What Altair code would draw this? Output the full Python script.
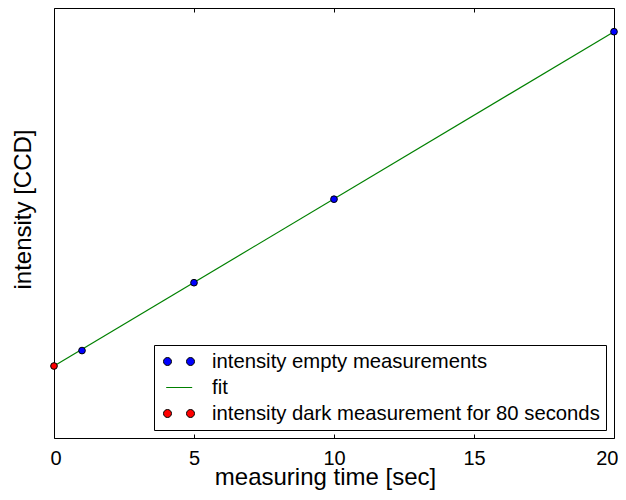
import altair as alt
import pandas as pd

# ---- data ----
fit_time = [0, 20]
fit_intensity = [165.5, 934.0]
empty_time = [1, 5, 10, 20]
empty_intensity = [201.0, 357.0, 549.0, 934.0]
dark_time = [0]
dark_intensity = [165.5]
x_ticks = [0, 5, 10, 15, 20]

S_EMPTY = "intensity empty measurements"
S_FIT = "fit"
S_DARK = "intensity dark measurement for 80 seconds"
series_order = [S_EMPTY, S_FIT, S_DARK]

fit_df = pd.DataFrame({"t": fit_time, "v": fit_intensity, "series": S_FIT})
pts_df = pd.concat([
    pd.DataFrame({"t": empty_time, "v": empty_intensity, "series": S_EMPTY}),
    pd.DataFrame({"t": dark_time, "v": dark_intensity, "series": S_DARK}),
], ignore_index=True)

FONT = "Liberation Sans"

def circle(cx, r):
    return (f"M {cx - r},0 A {r},{r} 0 1,0 {cx + r},0 "
            f"A {r},{r} 0 1,0 {cx - r},0 Z ")

# legend symbols (matplotlib-style: two markers per entry, short line for fit)
two_dots = circle(-0.3, 0.4) + circle(2.0, 0.4)
line_sym = "M -0.43,0 L 2.17,0"

x_scale = alt.Scale(domain=[0, 20], nice=False, zero=False)
y_scale = alt.Scale(domain=[0, 988.5], nice=False, zero=False)

stroke_scale = alt.Scale(domain=series_order, range=["#000000", "#008000", "#000000"])
fill_scale = alt.Scale(domain=series_order, range=["#0000ff", "transparent", "#ff0000"])
shape_scale = alt.Scale(domain=series_order, range=[two_dots, line_sym, two_dots])

legend = alt.Legend(title=None)

y_axis = alt.Axis(title="intensity [CCD]", labels=False, ticks=False,
                  grid=False, domain=False, titleFontSize=24,
                  titleX=-24, titleY=201, titleBaseline="alphabetic")

line = alt.Chart(fit_df).mark_line(strokeWidth=1.2).encode(
    x=alt.X("t:Q", scale=x_scale,
            axis=alt.Axis(orient="top", labels=False, title=None, values=x_ticks,
                          grid=True, gridDash=[4, 1000], gridColor="#000000",
                          gridOpacity=1, ticks=False, domain=False)),
    y=alt.Y("v:Q", scale=y_scale, axis=y_axis),
    stroke=alt.Stroke("series:N", scale=stroke_scale, legend=legend),
)

points = alt.Chart(pts_df).mark_point(filled=True, size=45, strokeWidth=1, opacity=1).encode(
    x=alt.X("t:Q", scale=x_scale,
            axis=alt.Axis(orient="bottom", title="measuring time [sec]", values=x_ticks,
                          grid=True, gridDash=[4, 1000], gridColor="#000000",
                          gridOpacity=1, ticks=False, domain=False,
                          labelFlush=True, labelFlushOffset=4,
                          labelFontSize=20, labelBaseline="alphabetic", labelPadding=26,
                          titleFontSize=24, titleX=271, titleY=46,
                          titleBaseline="alphabetic")),
    y=alt.Y("v:Q", scale=y_scale, axis=y_axis),
    fill=alt.Fill("series:N", scale=fill_scale, legend=legend),
    stroke=alt.Stroke("series:N", scale=stroke_scale, legend=legend),
)

# carries the legend symbol shapes only (no rows survive the filter)
legend_carrier = alt.Chart(pts_df).transform_filter("datum.t < -1000").mark_point(
    filled=True, size=45, strokeWidth=1, opacity=1
).encode(
    x=alt.X("t:Q", scale=x_scale, axis=None),
    y=alt.Y("v:Q", scale=y_scale, axis=y_axis),
    fill=alt.Fill("series:N", scale=fill_scale, legend=legend),
    stroke=alt.Stroke("series:N", scale=stroke_scale, legend=legend),
    shape=alt.Shape("series:N", scale=shape_scale, legend=legend),
)

chart = alt.layer(line, points, legend_carrier).resolve_axis(x="independent").properties(
    width=560, height=430,
    autosize=alt.AutoSizeParams(type="none"),
    padding={"left": 46, "top": 0, "right": 4, "bottom": 54},
).configure_view(
    stroke="#000000", strokeWidth=1
).configure_axis(
    labelFont=FONT, titleFont=FONT, labelColor="#000000", titleColor="#000000",
    titleFontWeight="normal", tickSize=0,
).configure_legend(
    orient="bottom-right", offset=8, padding=6, rowPadding=5,
    strokeColor="#000000", fillColor="#ffffff", cornerRadius=0,
    symbolSize=400, symbolStrokeWidth=1, labelFont=FONT, labelFontSize=20.3,
    labelColor="#000000", labelOffset=31, labelLimit=0,
)

chart.save("out.html", embed_options={"renderer": "svg", "actions": False})
